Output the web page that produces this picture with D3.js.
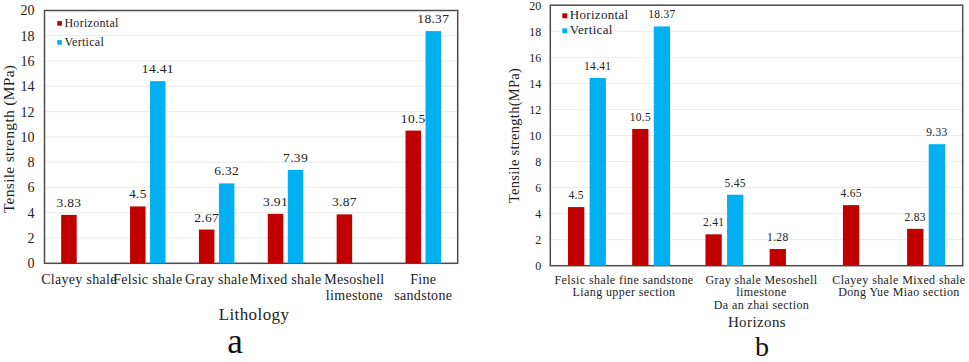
<!DOCTYPE html>
<html>
<head>
<meta charset="utf-8">
<script src="https://cdn.jsdelivr.net/npm/d3@7"></script>
<style>
  html, body { margin: 0; padding: 0; background: #fff; }
  svg { display: block; }
  svg text { font-family: "Liberation Serif", "Times New Roman", serif !important; }
</style>
</head>
<body>
<svg id="chart" width="969" height="362"></svg>
<script>
// ---------- Data ----------
const seriesNames = ["Horizontal", "Vertical"];
const seriesColors = ["#C00000", "#00B0F0"];
const yTicks = [0, 2, 4, 6, 8, 10, 12, 14, 16, 18, 20];

// Panel a: lithology
const categoriesA = ["Clayey shale", "Felsic shale", "Gray shale", "Mixed shale", "Mesoshell limestone", "Fine sandstone"];
const categoryLinesA = [["Clayey shale"], ["Felsic shale"], ["Gray shale"], ["Mixed shale"], ["Mesoshell", "limestone"], ["Fine", "sandstone"]];
const horizontalA = [3.83, 4.5, 2.67, 3.91, 3.87, 10.5];
const verticalA = [null, 14.41, 6.32, 7.39, null, 18.37];

// Panel b: horizons
const sectionsB = ["Liang upper section", "Da an zhai section", "Dong Yue Miao section"];
const subCategoriesB = [["Felsic shale", "fine sandstone"], ["Gray shale", "Mesoshell limestone"], ["Clayey shale", "Mixed shale"]];
const groupLinesB = [["Felsic shale fine sandstone", "Liang upper section"], ["Gray shale Mesoshell", "limestone", "Da an zhai section"], ["Clayey shale Mixed shale", "Dong Yue Miao section"]];
const horizontalB = [4.5, 10.5, 2.41, 1.28, 4.65, 2.83];
const verticalB = [14.41, 18.37, 5.45, null, null, 9.33];

const svg = d3.select("#chart");

function frameAndGrid(g, x0, x1, y, tickFont, tickGap) {
  g.append("g").selectAll("line").data(yTicks.filter(t => t > 0 && t < 20)).join("line")
    .attr("x1", x0).attr("x2", x1)
    .attr("y1", d => y(d)).attr("y2", d => y(d))
    .attr("stroke", "#ebebeb").attr("stroke-width", 1);
  const ax = g.append("g").attr("transform", `translate(${x0},0)`)
    .call(d3.axisLeft(y).tickValues(yTicks).tickSize(0).tickPadding(tickGap).tickFormat(d3.format("d")));
  ax.select(".domain").remove();
  ax.selectAll("text").attr("font-size", tickFont).attr("fill", "#222");
  g.append("rect").attr("x", x0).attr("y", y(20)).attr("width", x1 - x0).attr("height", y(0) - y(20))
    .attr("fill", "none").attr("stroke", "#4d4d4d").attr("stroke-width", 1.5);
}

function legend(g, x, y1, y2, size, font) {
  seriesNames.forEach((s, i) => {
    const yy = i === 0 ? y1 : y2;
    g.append("rect").attr("x", x).attr("y", yy - size).attr("width", size).attr("height", size)
      .attr("fill", seriesColors[i]);
    g.append("text").attr("x", x + size + 2.5).attr("y", yy + 1).attr("font-size", font)
      .attr("fill", "#222").attr("letter-spacing", 0.3).text(s);
  });
}

// ---------- Panel a ----------
{
  const g = svg.append("g");
  const L = 44.5, R = 457.7, T = 10.5, B = 263.3;
  const y = d3.scaleLinear().domain([0, 20]).range([B, T]);
  const x = d3.scaleBand().domain(categoriesA).range([L, R]);
  frameAndGrid(g, L, R, y, 14, 10);
  const bw = 15.5, off = 10;
  const bars = [];
  categoriesA.forEach((c, i) => {
    if (horizontalA[i] != null) bars.push({ c, v: horizontalA[i], s: 0 });
    if (verticalA[i] != null) bars.push({ c, v: verticalA[i], s: 1 });
  });
  const cx = d => x(d.c) + x.bandwidth() / 2 + (d.s === 0 ? -off : off);
  g.append("g").selectAll("rect").data(bars).join("rect")
    .attr("x", d => cx(d) - bw / 2).attr("width", bw)
    .attr("y", d => y(d.v)).attr("height", d => y(0) - y(d.v))
    .attr("fill", d => seriesColors[d.s]);
  g.append("g").selectAll("text").data(bars).join("text")
    .attr("x", d => cx(d)).attr("y", d => y(d.v) - 8)
    .attr("text-anchor", "middle").attr("font-size", 13.5).attr("fill", "#222")
    .attr("letter-spacing", 0.3).text(d => d.v);
  categoriesA.forEach((c, i) => {
    categoryLinesA[i].forEach((line, k) => {
      g.append("text").attr("x", x(c) + x.bandwidth() / 2).attr("y", 284 + k * 15.5)
        .attr("text-anchor", "middle").attr("font-size", 14).attr("fill", "#222")
        .attr("letter-spacing", 0.3).text(line);
    });
  });
  g.append("text").attr("x", 254).attr("y", 320).attr("text-anchor", "middle")
    .attr("font-size", 17).attr("fill", "#222").attr("letter-spacing", 0.4).text("Lithology");
  g.append("text").attr("transform", `translate(14,${(T + B) / 2 + 2}) rotate(-90)`)
    .attr("text-anchor", "middle").attr("font-size", 15.5).attr("fill", "#222")
    .attr("letter-spacing", 0.3).text("Tensile strength (MPa)");
  g.append("text").attr("x", 235).attr("y", 353).attr("text-anchor", "middle")
    .attr("font-size", 35).attr("fill", "#111").text("a");
  legend(g, 57.3, 25.7, 44.7, 4.6, 12);
}

// ---------- Panel b ----------
{
  const g = svg.append("g");
  const L = 550.3, R = 962.7, T = 5.2, B = 265.7;
  const y = d3.scaleLinear().domain([0, 20]).range([B, T]);
  const xg = d3.scaleBand().domain(sectionsB).range([L, R]);
  const xs = d3.scalePoint().domain([0, 1]).range([0, xg.bandwidth()]).padding(0.571);
  frameAndGrid(g, L, R, y, 12, 9);
  const bw = 16.3, off = 10.8;
  const bars = [];
  sectionsB.forEach((sec, gi) => {
    subCategoriesB[gi].forEach((sub, si) => {
      const idx = gi * 2 + si;
      if (horizontalB[idx] != null) bars.push({ sec, si, v: horizontalB[idx], s: 0 });
      if (verticalB[idx] != null) bars.push({ sec, si, v: verticalB[idx], s: 1 });
    });
  });
  const cx = d => xg(d.sec) + xs(d.si) + (d.s === 0 ? -off : off);
  g.append("g").selectAll("rect").data(bars).join("rect")
    .attr("x", d => cx(d) - bw / 2).attr("width", bw)
    .attr("y", d => y(d.v)).attr("height", d => y(0) - y(d.v))
    .attr("fill", d => seriesColors[d.s]);
  g.append("g").selectAll("text").data(bars).join("text")
    .attr("x", d => cx(d)).attr("y", d => y(d.v) - 8)
    .attr("text-anchor", "middle").attr("font-size", 11.5).attr("fill", "#222")
    .attr("letter-spacing", 0.3).text(d => d.v);
  sectionsB.forEach((sec, gi) => {
    groupLinesB[gi].forEach((line, k) => {
      g.append("text").attr("x", xg(sec) + xg.bandwidth() / 2 + 5).attr("y", 283.5 + k * 12.8)
        .attr("text-anchor", "middle").attr("font-size", 12).attr("fill", "#222")
        .attr("letter-spacing", 0.4).text(line);
    });
  });
  g.append("text").attr("x", 757).attr("y", 326.5).attr("text-anchor", "middle")
    .attr("font-size", 15).attr("fill", "#222").attr("letter-spacing", 0.4).text("Horizons");
  g.append("text").attr("transform", `translate(519,${(T + B) / 2}) rotate(-90)`)
    .attr("text-anchor", "middle").attr("font-size", 14.5).attr("fill", "#222")
    .attr("letter-spacing", 0.3).text("Tensile strength(MPa)");
  g.append("text").attr("x", 762).attr("y", 355.5).attr("text-anchor", "middle")
    .attr("font-size", 28).attr("fill", "#111").text("b");
  legend(g, 562.3, 18.3, 33.3, 5, 13);
}
</script>
</body>
</html>
